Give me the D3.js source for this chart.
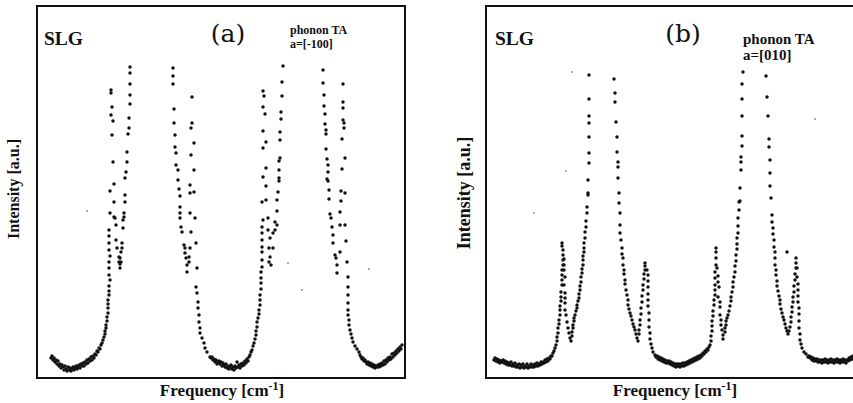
<!DOCTYPE html>
<html><head><meta charset="utf-8">
<script src="https://cdn.jsdelivr.net/npm/d3@7/dist/d3.min.js"></script>
<style>body{margin:0;background:#fff}svg{display:block}</style>
</head><body>
<script>
// Frequency (a.u.) vs Intensity (a.u.) scatter
const freqDomain = [0, 368];
const intensityDomain = [0, 372];

const panelLetters = ["(a)", "(b)"];
const sampleNames = ["SLG", "SLG"];
const modeNames = ["phonon TA", "phonon TA"];
const directions = ["a=[-100]", "a=[010]"];
const xLabel = "Frequency [cm";
const xLabelSup = "-1";
const yLabel = "Intensity [a.u.]";

const panelAPoints = [
 [14,20],[15,22],[16,18],[17,20],[18,16],[19,18],[20,14],[21,17],[22,12],[23,14],[24,10],[25,13],[26,11],[27,8],[28,12],[29,9],[30,7],[31,11],[32,8],[33,10],[34,7],[35,9],[36,11],[37,8],[38,10],[39,12],[40,9],[41,11],[42,13],[43,10],[44,14],[45,12],[46,15],[47,12],[48,16],[49,14],[50,18],[51,15],[52,19],[53,17],[54,21],[55,18],[56,22],[57,20],[58,24],[59,23],[60,27],[61,26],[62,30],[63,29],[64,33],[65,35],
 [66,38],[67,41],[68,44],[68,47],[69,50],[69,53],[70,57],[70,61],[71,65],[71,70],[71,74],[71,78],[72,83],[72,87],[72,92],[73,98],[72,103],[72,110],[72,116],[73,122],[72,128],[72,135],[72,142],[72,148],
 [73,165],[77,161],[77,176],[73,187],[77,194],[76,216],[75,243],[76,257],[74,263],[75,271],[74,285],[74,288],
 [78,160],[79,153],[79,138],[80,130],[82,121],[82,116],[83,110],[83,114],
 [86,158],[86,150],[85,135],[85,130],[84,126],[83,120],[84,116],
 [93,311],[93,305],[93,294],[93,283],[93,274],[92,260],[92,250],[91,244],[90,226],[90,216],[89,206],[88,200],[88,183],[88,176],[87,165],[87,161],
 [136,310],[136,302],[136,294],[137,269],[137,255],[138,243],[138,231],[139,225],[139,213],[141,208],[141,198],[142,189],[143,182],[143,171],[143,165],[143,160],[144,151],[145,146],[147,133],[148,130],[148,125],[149,120],[150,113],[150,106],
 [155,281],[155,255],[154,250],[157,235],[154,223],[157,208],[153,193],[157,186],[153,185],[153,165],[158,160],[154,146],[159,135],[153,130],[152,121],[152,116],[160,110],[159,91],[160,85],[161,76],[161,70],[162,63],[162,56],[163,50],[163,45],[165,40],[167,35],[168,30],[170,26],[173,21],
 [174,20],[175,21],[176,18],[177,19],[178,16],[179,18],[180,14],[181,16],[182,17],[183,14],[184,16],[185,12],[186,15],[187,13],[188,11],[189,14],[190,10],[191,12],[192,9],[193,11],[194,13],[195,9],[196,11],[197,8],[198,12],[199,10],[200,16],[201,11],[202,13],[203,10],[204,14],[205,12],[206,15],[207,13],[208,17],[209,15],[210,19],[211,17],[212,21],[213,23],[214,26],[215,28],[216,32],[217,35],[218,39],[219,43],[219,47],[220,51],[220,56],[221,60],[222,64],[222,68],[223,73],[223,78],[223,83],[224,89],[224,95],[224,100],[224,106],[225,111],[225,118],[225,126],[225,131],[225,138],[225,145],[225,151],[226,158],
 [226,287],[227,282],[226,271],[228,264],[226,247],[229,236],[226,230],[229,210],[226,201],[229,192],[229,178],[225,176],[231,160],
 [231,148],[233,140],[232,130],[233,121],[232,116],[234,113],[236,130],[236,145],[238,148],[238,156],[240,153],
 [246,312],[245,296],[245,282],[244,266],[244,259],[243,246],[243,238],[243,220],[242,217],[242,208],[242,200],[242,197],[241,186],[240,178],[240,167],
 [286,308],[286,295],[287,283],[287,272],[288,264],[288,254],[289,248],[289,244],[289,229],[290,219],[291,213],[291,206],[290,199],[291,197],[292,188],[292,179],[293,164],[294,160],[295,151],[296,143],[296,135],[298,123],[299,120],[300,113],[300,105],
 [306,294],[306,276],[306,270],[306,258],[307,255],[307,250],[305,239],[308,220],[305,209],[304,187],[308,185],[304,177],[303,166],[303,153],[308,153],[309,137],[303,126],[310,116],[311,101],[311,91],[311,83],[311,75],[311,68],[311,63],[312,58],[312,53],[313,48],[314,44],[315,40],[316,36],[318,32],[320,29],[322,26],
 [323,23],[324,21],[325,19],[326,20],[327,17],[328,18],[329,16],[330,14],[331,16],[332,13],[333,15],[334,12],[335,14],[336,11],[337,13],[338,10],[339,12],[340,11],[341,13],[342,11],[343,14],[344,12],[345,15],[346,13],[347,17],[348,14],[349,18],[350,16],[351,20],[352,18],[353,21],[354,19],[355,24],[356,21],[357,25],[358,23],[359,27],[360,25],[361,29],[362,27],[363,31],[364,29],[365,33]
];

const panelBPoints = [
 [8,18],[9,20],[10,17],[11,19],[12,16],[13,18],[14,15],[15,17],[16,16],[17,18],[18,15],[19,17],[20,14],[21,16],[22,13],[23,15],[24,13],[25,16],[26,12],[27,14],[28,12],[29,15],[30,11],[31,13],[32,11],[33,14],[34,10],[35,13],[36,11],[37,14],[38,10],[39,12],[40,11],[41,14],[42,10],[43,12],[44,11],[45,14],[46,11],[47,13],[48,11],[49,14],[50,12],[51,15],[52,12],[53,14],[54,13],[55,16],[56,14],[57,16],[58,15],[59,18],[60,16],[61,19],[62,17],[63,20],[64,19],[65,22],[66,22],[67,25],[68,27],[69,30],
 [70,33],[71,37],[71,41],[72,45],[72,50],[73,54],[73,58],[74,63],[74,68],[74,72],[75,77],[75,81],[75,86],[76,93],[76,98],[76,103],[76,108],[77,113],[77,118],[77,123],[77,128],[76,132],[76,135],
 [78,119],[78,113],[78,108],[79,101],[78,93],[79,85],[79,80],[79,75],[79,68],[80,63],[81,56],[82,50],[83,45],[84,40],[85,37],
 [86,42],[86,46],[87,50],[87,53],[88,57],[88,60],[89,63],[90,67],[91,70],[91,73],[92,77],[93,80],[93,84],[94,88],[94,92],[95,96],[95,101],[96,105],[96,109],[97,113],[97,118],[97,122],[98,126],[98,130],[98,135],[99,140],[99,146],[100,151],[100,157],[101,165],[101,171],
 [103,303],[103,279],[103,262],[103,255],[103,241],[103,225],[103,215],[102,198],[102,185],[102,183],
 [128,299],[129,285],[129,276],[130,256],[131,241],[131,226],[132,216],[132,211],[132,200],[133,185],[133,175],
 [134,165],[134,153],[134,145],[135,138],[136,130],[136,124],[137,120],[137,113],[138,108],[138,104],[139,98],[139,94],[140,88],[141,83],[142,78],[142,73],[143,69],[144,65],[145,62],[146,58],[147,54],[148,51],[149,48],[150,44],[151,40],[152,37],
 [153,44],[153,48],[154,53],[154,58],[155,64],[155,70],[156,76],[156,82],[157,88],[157,93],[158,99],[158,104],[159,108],[159,112],[159,115],
 [161,108],[162,103],[162,97],[162,91],[162,84],[162,78],[162,72],[163,65],[163,58],[163,51],[164,45],[164,39],[165,34],[166,30],[167,26],[169,23],
 [170,21],[171,22],[172,19],[173,21],[174,18],[175,20],[176,17],[177,19],[178,16],[179,18],[180,15],[181,17],[182,15],[183,17],[184,14],[185,16],[186,13],[187,15],[188,12],[189,14],[190,11],[191,14],[192,12],[193,14],[194,11],[195,14],[196,12],[197,15],[198,12],[199,15],[200,13],[201,16],[202,14],[203,17],[204,15],[205,18],[206,16],[207,19],[208,17],[209,20],[210,18],[211,21],[212,19],[213,22],[214,20],[215,23],[216,22],[217,25],[218,24],[219,27],[220,26],[221,29],[222,28],[223,31],[224,33],
 [225,37],[225,42],[226,47],[226,52],[226,57],[227,62],[227,67],[228,73],[228,78],[229,83],[229,88],[229,93],[229,100],[229,106],[230,113],[230,120],[230,126],[230,130],
 [231,110],[232,102],[232,96],[233,91],[232,81],[234,76],[234,71],[234,63],[235,58],[235,53],[236,48],[237,43],[237,39],
 [239,46],[239,50],[240,53],[240,57],[241,60],[242,63],[243,67],[244,72],[245,77],[245,81],[246,86],[247,91],[247,96],[248,101],[249,106],[249,112],[250,117],[250,123],[251,129],[251,134],[251,140],[252,145],[252,152],[252,160],[253,168],[253,176],
 [257,306],[256,294],[256,279],[256,262],[256,242],[256,232],[255,221],[255,216],[255,208],[254,190],[254,177],
 [280,302],[281,281],[282,262],[283,239],[283,231],[284,218],[284,205],[284,192],[285,180],[286,163],
 [286,156],[287,150],[287,144],[288,138],[288,131],[289,126],[289,120],[289,113],[290,108],[290,103],[291,97],[291,92],[292,87],[293,82],[294,78],[294,74],[295,69],[296,65],[297,61],[298,58],[299,54],[300,50],[301,47],[302,44],
 [301,126],
 [303,47],[304,51],[305,56],[305,61],[306,66],[306,71],[307,76],[307,81],[308,86],[308,92],[309,98],[309,104],[310,110],[310,115],[310,120],
 [311,110],[311,101],[312,94],[312,88],[312,82],[312,76],[313,70],[313,64],[313,57],[313,50],[314,44],[314,38],[315,34],[316,30],[318,26],[320,24],
 [322,21],[323,22],[324,20],[325,21],[326,18],[327,20],[328,17],[329,19],[330,17],[331,19],[332,16],[333,18],[334,16],[335,18],[336,15],[337,18],[338,16],[339,19],[340,16],[341,18],[342,15],[343,18],[344,16],[345,19],[346,16],[347,18],[348,15],[349,18],[350,16],[351,19],[352,16],[353,18],[354,15],[355,18],[356,16],[357,19],[358,16],[359,18],[360,15],[361,18],[362,17],[363,20],[364,18],[365,21],[366,19],[367,22]
];

const panelASpecks = [[50,167],[265,88],[251,115],[332,109]];
const panelBSpecks = [[86,306],[48,165],[80,207],[329,259]];

const panelPoints = [panelAPoints, panelBPoints];
const panelSpecks = [panelASpecks, panelBSpecks];

// ---------- layout ----------
const W = 853, H = 403;
const layout = [
  {left:37, top:6, width:368, height:372, slgX:44, slgSize:19.5, letterX:228, letterSize:25,
   modeX:290, modeY:34, dirY:48, modeSize:12, yLabX:19, yLabY:189, yLabSize:16, xLabX:222, xLabSize:17},
  {left:486, top:6, width:368, height:372, slgX:495, slgSize:19.5, letterX:683, letterSize:25,
   modeX:743, modeY:44, dirY:60, modeSize:15, yLabX:470, yLabY:193, yLabSize:18, xLabX:675, xLabSize:17}
];
const ink = "#111";
const serif = "'Liberation Serif','Times New Roman',serif";

const svg = d3.select("body").append("svg").attr("width", W).attr("height", H);

layout.forEach((L, i) => {
  const x = d3.scaleLinear().domain(freqDomain).range([L.left, L.left + L.width]);
  const y = d3.scaleLinear().domain(intensityDomain).range([L.top + L.height, L.top]);
  const g = svg.append("g");

  g.append("rect")
    .attr("x", x(freqDomain[0])).attr("y", y(intensityDomain[1]))
    .attr("width", x(freqDomain[1]) - x(freqDomain[0]))
    .attr("height", y(intensityDomain[0]) - y(intensityDomain[1]))
    .attr("fill", "none").attr("stroke", ink).attr("stroke-width", 2);

  g.selectAll("circle.speck").data(panelSpecks[i]).join("circle")
    .attr("class", "speck")
    .attr("cx", d => x(d[0])).attr("cy", d => y(d[1])).attr("r", 0.8).attr("fill", "#444");

  g.selectAll("circle.pt").data(panelPoints[i]).join("circle")
    .attr("class", "pt")
    .attr("cx", d => x(d[0])).attr("cy", d => y(d[1])).attr("r", 1.75).attr("fill", ink);

  g.append("text").attr("x", L.slgX).attr("y", 45)
    .attr("font-family", serif).attr("font-weight", "bold").attr("font-size", L.slgSize)
    .attr("fill", ink).text(sampleNames[i]);

  g.append("text").attr("x", L.letterX).attr("y", 42).attr("text-anchor", "middle")
    .attr("font-family", "'DejaVu Serif',serif").attr("font-size", L.letterSize)
    .attr("fill", ink).text(panelLetters[i]);

  g.append("text").attr("x", L.modeX).attr("y", L.modeY)
    .attr("font-family", serif).attr("font-weight", "bold").attr("font-size", L.modeSize)
    .attr("fill", ink).text(modeNames[i]);
  g.append("text").attr("x", L.modeX).attr("y", L.dirY)
    .attr("font-family", serif).attr("font-weight", "bold").attr("font-size", L.modeSize)
    .attr("fill", ink).text(directions[i]);

  g.append("text")
    .attr("transform", `translate(${L.yLabX},${L.yLabY}) rotate(-90)`)
    .attr("text-anchor", "middle")
    .attr("font-family", serif).attr("font-weight", "bold").attr("font-size", L.yLabSize)
    .attr("fill", ink).text(yLabel);

  const xl = g.append("text").attr("x", L.xLabX).attr("y", 396).attr("text-anchor", "middle")
    .attr("font-family", serif).attr("font-weight", "bold").attr("font-size", L.xLabSize)
    .attr("fill", ink);
  xl.append("tspan").text(xLabel);
  xl.append("tspan").attr("dy", -6).attr("font-size", L.xLabSize * 0.7).text(xLabelSup);
  xl.append("tspan").attr("dy", 6).text("]");
});
</script>
</body></html>
